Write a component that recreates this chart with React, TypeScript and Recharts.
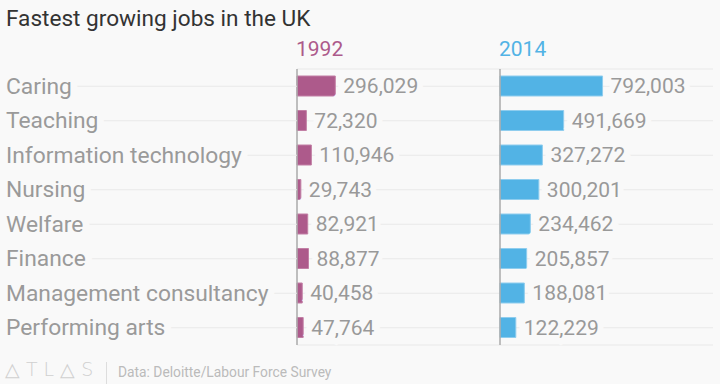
import { Bar, BarChart, CartesianGrid, LabelList, ReferenceLine, XAxis, YAxis } from "recharts";

const jobs = [
  "Caring",
  "Teaching",
  "Information technology",
  "Nursing",
  "Welfare",
  "Finance",
  "Management consultancy",
  "Performing arts",
];
const jobs1992 = [296029, 72320, 110946, 29743, 82921, 88877, 40458, 47764];
const jobs2014 = [792003, 491669, 327272, 300201, 234462, 205857, 188081, 122229];

const data = jobs.map((name, i) => ({ name, y1992: jobs1992[i], y2014: jobs2014[i] }));

const BG = "#f9f9f9";
const FONT = "Roboto, 'Noto Sans', sans-serif";
const PURPLE = "#ad5a8b";
const BLUE = "#52b3e5";

function JobTick({ y, payload }: any) {
  return (
    <g>
      <line x1={6} x2={297} y1={y} y2={y} stroke="#e9e9e9" strokeWidth={1} />
      <text
        x={6}
        y={y}
        dominantBaseline="central"
        fontFamily={FONT}
        fontSize={22.8}
        fill="#9a9a9a"
        stroke={BG}
        strokeWidth={14}
        paintOrder="stroke"
      >
        {payload.value}
      </text>
    </g>
  );
}

function valueLabel(props: any) {
  const { x, y, width, height, value } = props;
  return (
    <text
      x={x + width + 8}
      y={y + height / 2}
      dominantBaseline="central"
      fontFamily={FONT}
      fontSize={21}
      fill="#999"
      stroke={BG}
      strokeWidth={12}
      paintOrder="stroke"
    >
      {Number(value).toLocaleString("en-US")}
    </text>
  );
}

const top = 69;
const bottom = 39;

export default function App() {
  return (
    <div
      style={{
        position: "absolute",
        left: 0,
        top: 0,
        width: 720,
        height: 384,
        background: BG,
        fontFamily: FONT,
        overflow: "hidden",
      }}
    >
      <div style={{ position: "absolute", left: 6, top: 5, fontSize: 22.6, color: "#333" }}>
        Fastest growing jobs in the UK
      </div>
      <div style={{ position: "absolute", left: 296, top: 37, fontSize: 21, color: PURPLE }}>1992</div>
      <div style={{ position: "absolute", left: 499, top: 37, fontSize: 21, color: BLUE }}>2014</div>

      <div style={{ position: "absolute", left: 0, top: 0 }}>
        <BarChart
          width={720}
          height={384}
          data={data}
          layout="vertical"
          margin={{ top, bottom, left: 0, right: 220 }}
        >
          <CartesianGrid horizontal vertical={false} stroke="#e9e9e9" />
          <XAxis type="number" domain={[0, 1570000]} hide />
          <YAxis
            type="category"
            dataKey="name"
            width={297}
            axisLine={false}
            tickLine={false}
            tick={<JobTick />}
            interval={0}
          />
          <Bar dataKey="y1992" fill={PURPLE} stroke="#c27fa5" strokeWidth={1} barSize={20} isAnimationActive={false}>
            <LabelList dataKey="y1992" content={valueLabel} />
          </Bar>
          <ReferenceLine x={0} stroke="#aaa" strokeWidth={1.5} />
        </BarChart>
      </div>

      <div style={{ position: "absolute", left: 0, top: 0 }}>
        <BarChart
          width={720}
          height={384}
          data={data}
          layout="vertical"
          margin={{ top, bottom, left: 500, right: 7 }}
        >
          <CartesianGrid horizontal vertical={false} stroke="#e9e9e9" />
          <XAxis type="number" domain={[0, 1645000]} hide />
          <YAxis type="category" dataKey="name" hide interval={0} />
          <Bar dataKey="y2014" fill={BLUE} stroke="#8fcdee" strokeWidth={1} barSize={20} isAnimationActive={false}>
            <LabelList dataKey="y2014" content={valueLabel} />
          </Bar>
          <ReferenceLine x={0} stroke="#aaa" strokeWidth={1.5} />
        </BarChart>
      </div>

      <div
        style={{
          position: "absolute",
          left: 5,
          top: 358,
          fontSize: 19,
          color: "#d0d0d0",
          letterSpacing: 6,
          fontFamily: "'DejaVu Sans', sans-serif",
          fontWeight: 200,
        }}
      >
        △TL△S
      </div>
      <div style={{ position: "absolute", left: 106, top: 362, width: 1, height: 22, background: "#ddd" }} />
      <div style={{ position: "absolute", left: 118, top: 364, fontSize: 13.8, color: "#bbb" }}>
        Data: Deloitte/Labour Force Survey
      </div>
    </div>
  );
}
